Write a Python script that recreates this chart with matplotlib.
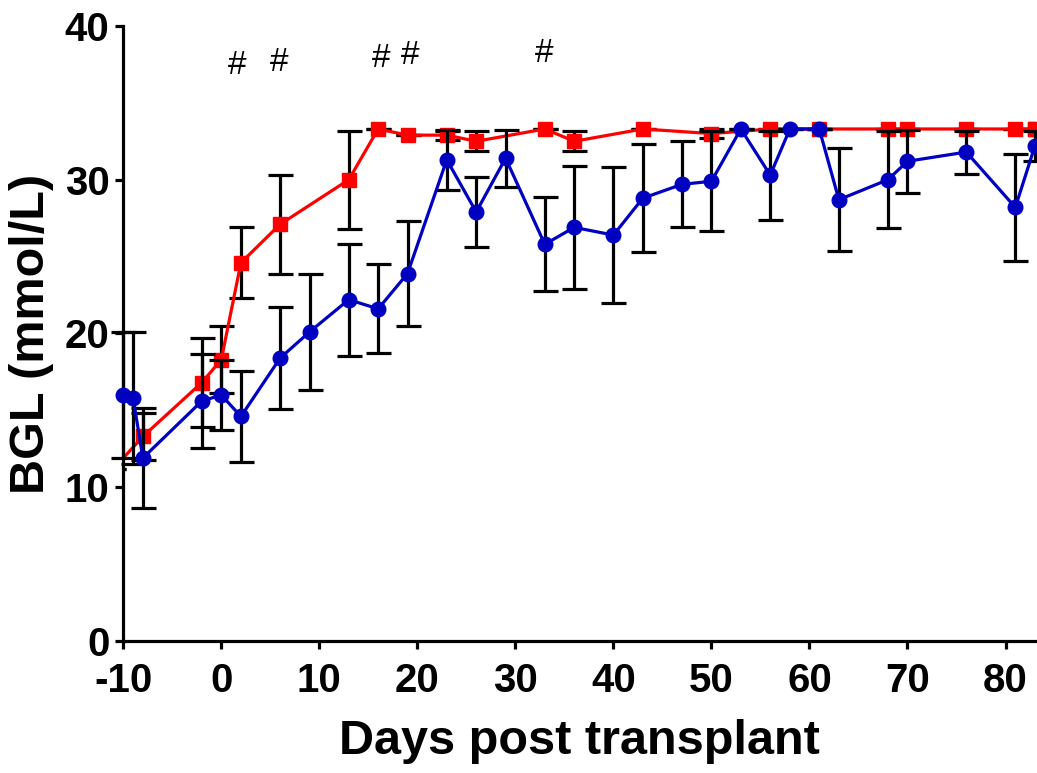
import numpy as np
import matplotlib.pyplot as plt

plt.rcParams['font.family'] = ['Liberation Sans', 'DejaVu Sans']
plt.rcParams['axes.unicode_minus'] = False

# red series (squares)
red_days = [-11, -8, -2, 0, 2, 6, 13, 16, 19, 23, 26, 33, 36, 43, 50, 56, 61, 68, 70, 76, 81, 83]
red_bgl = [11.2, 13.3, 16.8, 18.3, 24.6, 27.1, 30.0, 33.3, 32.9, 32.9, 32.5, 33.3, 32.5,
           33.3, 33.0, 33.3, 33.3, 33.3, 33.3, 33.3, 33.3, 33.3]
red_sem = [0, 1.5, 2.9, 2.2, 2.3, 3.2, 3.2, 0, 0, 0.3, 0.65, 0, 0.65,
           0, 0.3, 0, 0, 0, 0, 0, 0, 0]

# blue series (circles)
blue_days = [-10, -9, -8, -2, 0, 2, 6, 9, 13, 16, 19, 23, 26, 29, 33, 36, 40, 43, 47, 50,
             53, 56, 58, 61, 63, 68, 70, 76, 81, 83]
blue_bgl = [16.0, 15.8, 11.9, 15.6, 16.0, 14.6, 18.4, 20.1, 22.2, 21.6, 23.9, 31.3, 27.9,
            31.4, 25.8, 26.9, 26.4, 28.8, 29.7, 29.9, 33.3, 30.3, 33.3, 33.3, 28.7, 30.0,
            31.2, 31.8, 28.2, 32.2]
blue_sem = [4.1, 4.3, 3.25, 3.05, 2.3, 2.95, 3.3, 3.8, 3.65, 2.9, 3.4, 1.95, 2.3,
            1.85, 3.05, 4.0, 4.4, 3.5, 2.8, 3.25, 0, 2.9, 0, 0, 3.35, 3.15,
            2.05, 1.4, 3.5, 1.0]

# significance marks
hash_days = [1.6, 5.9, 16.3, 19.3, 32.9]
hash_y = [37.4, 37.6, 37.9, 38.1, 38.2]

fig = plt.figure(figsize=(10.37, 7.73), dpi=100)
ax = fig.add_axes([0.1189, 0.1708, 0.8791, 0.7956])

# red: clipped at the axis (first point lies before day -10)
ax.errorbar(red_days, red_bgl, yerr=red_sem, fmt='none', ecolor='black',
            elinewidth=2.3, capsize=9, capthick=2.3, zorder=2)
ax.plot(red_days, red_bgl, color='#ff0000', lw=2.3, marker='s', ms=9.5, zorder=3)
ax.plot(red_days[-1:], red_bgl[-1:], color='#ff0000', marker='s', ms=9.5,
        zorder=3, clip_on=False)

eb = ax.errorbar(blue_days, blue_bgl, yerr=blue_sem, fmt='none', ecolor='black',
                 elinewidth=2.3, capsize=9, capthick=2.3, zorder=4)
for art in eb.lines[1] + eb.lines[2]:
    art.set_clip_on(False)
ax.plot(blue_days, blue_bgl, color='#0000c0', lw=2.3, marker='o', ms=10.5,
        zorder=5, clip_on=False)

for d, y in zip(hash_days, hash_y):
    ax.text(d, y, '#', fontsize=24, ha='center', va='center')

ax.set_xlim(-10, 83)
ax.set_ylim(0, 40)
ax.set_xticks(np.arange(-10, 81, 10))
ax.set_yticks(np.arange(0, 41, 10))

for s in ['top', 'right']:
    ax.spines[s].set_visible(False)
for s in ['left', 'bottom']:
    ax.spines[s].set_linewidth(2.3)

ax.tick_params(width=2.3, length=6, labelsize=29)
ax.tick_params(axis='x', pad=9)
ax.tick_params(axis='y', pad=4)
for lab in ax.get_xticklabels() + ax.get_yticklabels():
    lab.set_fontweight('bold')

ax.set_xlabel('Days post transplant', fontsize=35, fontweight='bold', labelpad=14)
ax.set_ylabel('BGL (mmol/L)', fontsize=35, fontweight='bold', labelpad=8)

fig.savefig('out.png', dpi=100)
